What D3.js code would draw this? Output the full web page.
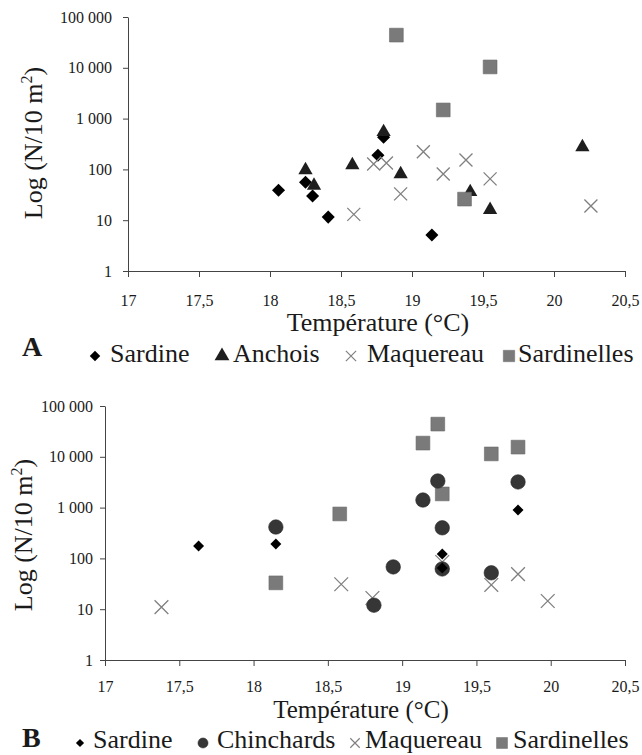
<!DOCTYPE html>
<html lang="fr">
<head>
  <meta charset="UTF-8">
  <title>Log (N/10 m²) vs Température</title>
  <script src="https://d3js.org/d3.v7.min.js"></script>
  <style>
    body { margin: 0; background: #fff; }
    svg { display: block; }
    text { font-family: "Liberation Serif", "Times New Roman", serif; fill: #1a1a1a; }
  </style>
</head>
<body>
  <div id="chart"></div>
  <script>
    // ---- data: [température °C, N/10 m²] ----
    const xTicks = [17, 17.5, 18, 18.5, 19, 19.5, 20, 20.5];
    const yTicks = [1, 10, 100, 1000, 10000, 100000];

    // Panel A
    const sardineA = [[18.06, 39], [18.25, 56], [18.30, 30], [18.41, 11.5], [18.76, 190], [18.80, 430], [19.14, 5.1]];
    const anchoisA = [[18.25, 97], [18.31, 48], [18.58, 122], [18.80, 545], [18.92, 81], [19.41, 36], [19.55, 16], [20.20, 275]];
    const maquereauA = [[18.59, 13], [18.73, 128], [18.82, 134], [18.92, 33], [19.08, 222], [19.22, 81], [19.38, 153], [19.55, 65], [20.26, 19]];
    const sardinellesA = [[18.89, 44000], [19.55, 10400], [19.22, 1480], [19.37, 26]];

    // Panel B
    const sardineB = [[17.63, 175], [18.15, 192], [19.27, 122], [19.27, 65], [19.78, 900]];
    const chinchardsB = [[18.15, 415], [18.81, 12], [18.94, 68], [19.14, 1410], [19.24, 3340], [19.27, 400], [19.27, 62], [19.60, 52], [19.78, 3200]];
    const maquereauB = [[17.38, 11], [18.59, 31], [18.80, 16.6], [19.27, 85], [19.60, 30], [19.78, 49], [19.98, 14.5]];
    const sardinellesB = [[18.15, 33], [18.58, 750], [19.14, 18600], [19.24, 44000], [19.27, 1860], [19.60, 11400], [19.78, 15500]];

    const legendA = ["Sardine", "Anchois", "Maquereau", "Sardinelles"];
    const legendB = ["Sardine", "Chinchards", "Maquereau", "Sardinelles"];

    const width = 642, height = 755;
    const serif = '"Liberation Serif", "Times New Roman", serif';

    // French number format: "100 000", "17,5"
    const fr = d3.formatLocale({ decimal: ",", thousands: " ", grouping: [3], currency: ["", ""] });
    const fmt = fr.format(",");

    // marker styles
    const styles = {
      diamond:  { type: d3.symbolSquare,   fill: "#000",    stroke: "none",    rotate: 45 },
      triangle: { type: d3.symbolTriangle, fill: "#1e1e1e", stroke: "none",    rotate: 0 },
      cross:    { type: d3.symbolTimes,    fill: "none",    stroke: "#808080", rotate: 0 },
      square:   { type: d3.symbolSquare,   fill: "#7a7a7a", stroke: "#6a6a6a", rotate: 0 },
      circle:   { type: d3.symbolCircle,   fill: "#363636", stroke: "#2a2a2a", rotate: 0 }
    };

    const svg = d3.select("#chart").append("svg")
      .attr("width", width)
      .attr("height", height)
      .attr("viewBox", [0, 0, width, height]);

    function drawPanel(p) {
      const x = d3.scaleLinear().domain([17, 20.5]).range([p.left, p.right]);
      const y = d3.scaleLog().domain([1, 100000]).range([p.bottom, p.top]);

      const xAxis = svg.append("g")
        .attr("transform", `translate(0,${p.bottom})`)
        .call(d3.axisBottom(x).tickValues(xTicks).tickFormat(fmt)
          .tickSize(6).tickSizeOuter(0).tickPadding(p.xPad));
      const yAxis = svg.append("g")
        .attr("transform", `translate(${p.left},0)`)
        .call(d3.axisLeft(y).tickValues(yTicks).tickFormat(fmt)
          .tickSize(5).tickSizeOuter(0).tickPadding(p.yPad));

      [xAxis, yAxis].forEach(a => {
        a.attr("font-family", serif).attr("font-size", 16);
        a.selectAll("path, line").attr("stroke", "#444").attr("stroke-width", 1);
        a.selectAll("text")
          .style("font-family", serif)
          .style("font-size", "16px")
          .attr("fill", "#222");
      });

      // series, in drawing order
      p.series.forEach(s => {
        const st = styles[s.marker];
        const sym = d3.symbol(st.type, s.size);
        svg.append("g").selectAll("path")
          .data(s.values)
          .join("path")
          .attr("d", sym)
          .attr("transform", d => `translate(${x(d[0])},${y(d[1])}) rotate(${st.rotate})`)
          .attr("fill", st.fill)
          .attr("stroke", st.stroke)
          .attr("stroke-width", s.marker === "cross" ? 1.3 : 0.6);
      });

      // axis titles
      svg.append("text")
        .attr("x", p.titleX)
        .attr("y", p.titleY)
        .attr("text-anchor", "middle")
        .style("font-size", p.titleSize + "px")
        .text("Température (°C)");

      const yl = svg.append("text")
        .attr("transform", `translate(${p.ylabX},${p.ylabY}) rotate(-90)`)
        .attr("text-anchor", "middle")
        .style("font-size", "26px");
      yl.append("tspan").text("Log (N/10 m");
      yl.append("tspan").attr("dy", -10).style("font-size", "16px").text("2");
      yl.append("tspan").attr("dy", 10).text(")");

      // panel letter
      svg.append("text")
        .attr("x", 22)
        .attr("y", p.letterY)
        .style("font-size", "28px")
        .style("font-weight", "bold")
        .text(p.letter);

      // legend
      p.legend.forEach((name, i) => {
        const s = p.series.find(d => d.name === name);
        const st = styles[s.marker];
        svg.append("path")
          .attr("d", d3.symbol(st.type, p.legendSym[i])())
          .attr("transform", `translate(${p.legendSymX[i]},${p.legendY - p.symLift}) rotate(${st.rotate})`)
          .attr("fill", st.fill)
          .attr("stroke", st.stroke)
          .attr("stroke-width", s.marker === "cross" ? 1.2 : 0.5);
        svg.append("text")
          .attr("x", p.legendTextX[i])
          .attr("y", p.legendY)
          .style("font-size", "26px")
          .text(name);
      });
    }

    drawPanel({
      left: 128, right: 625, top: 17, bottom: 271, xPad: 18, yPad: 11,
      titleX: 378, titleY: 331, titleSize: 26, ylabX: 42, ylabY: 143,
      letter: "A", letterY: 356,
      legend: legendA, legendY: 362, symLift: 6,
      legendSymX: [95, 222, 351, 509], legendTextX: [110, 233, 367, 518],
      legendSym: [55, 95, 70, 130],
      series: [
        { name: "Sardine", marker: "diamond", size: 85, values: sardineA },
        { name: "Anchois", marker: "triangle", size: 88, values: anchoisA },
        { name: "Maquereau", marker: "cross", size: 112, values: maquereauA },
        { name: "Sardinelles", marker: "square", size: 190, values: sardinellesA }
      ]
    });

    drawPanel({
      left: 105, right: 625, top: 406, bottom: 660, xPad: 15, yPad: 7,
      titleX: 361, titleY: 718, titleSize: 25, ylabX: 32, ylabY: 535,
      letter: "B", letterY: 747,
      legend: legendB, legendY: 748, symLift: 5,
      legendSymX: [80, 203, 355, 502], legendTextX: [93, 217, 365, 513],
      legendSym: [34, 80, 60, 120],
      series: [
        { name: "Sardinelles", marker: "square", size: 190, values: sardinellesB },
        { name: "Maquereau", marker: "cross", size: 125, values: maquereauB },
        { name: "Chinchards", marker: "circle", size: 165, values: chinchardsB },
        { name: "Sardine", marker: "diamond", size: 60, values: sardineB }
      ]
    });
  </script>
</body>
</html>
